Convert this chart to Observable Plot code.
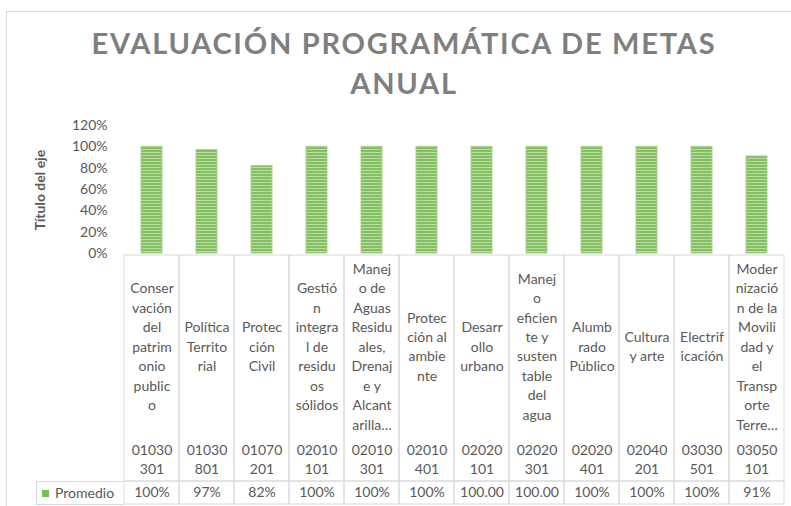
<!DOCTYPE html>
<html>
<head>
<meta charset="utf-8">
<script src="https://cdn.jsdelivr.net/npm/d3@7"></script>
<script src="https://cdn.jsdelivr.net/npm/@observablehq/plot@0.6"></script>
<style>
  body { margin: 0; background: #fff; font-family: Lato, sans-serif; }
  #wrap { position: relative; width: 791px; height: 506px; overflow: hidden; background: #fff; }
  #frame { position: absolute; left: 6px; top: 11px; width: 900px; height: 600px; border-left: 1px solid #d9d9d9; border-top: 1px solid #d9d9d9; }
  .title { position: absolute; left: 0; width: 808px; text-align: center; font: bold 29px Lato, sans-serif; line-height: 40px; color: #7f7f7f; white-space: nowrap; }
  #t1 { top: 23px; }
  #t2 { top: 63px; }
  #ylabel { position: absolute; left: 39px; top: 190px; transform: translate(-50%, -50%) rotate(-90deg); font: bold 14px Lato, sans-serif; color: #595959; white-space: nowrap; }
  #chart, #labels, #values { position: absolute; left: 0; }
  #chart { top: 0; }
  #labels { top: 254px; }
  #values { top: 480px; }
  #legend { position: absolute; left: 36px; top: 481px; width: 88px; height: 24px; box-sizing: border-box; border: 1px solid #d9d9d9; border-right: none; font: 14px Lato, sans-serif; color: #595959; line-height: 22px; white-space: nowrap; }
  #legend .sw { display: inline-block; width: 7px; height: 7px; background: #7cbb5a; margin: 0 6px 0 5px; vertical-align: middle; position: relative; top: -1px; }
</style>
</head>
<body>
<div id="wrap">
  <div id="frame"></div>
  <div class="title" id="t1"></div>
  <div class="title" id="t2"></div>
  <div id="ylabel"></div>
  <div id="chart"></div>
  <div id="labels"></div>
  <div id="values"></div>
  <div id="legend"><span class="sw"></span><span id="legendText"></span></div>
</div>
<script>
// ---- data ----
const titleLines = ["EVALUACIÓN PROGRAMÁTICA DE METAS", "ANUAL"];
const yTitle = "Título del eje";
const seriesName = "Promedio";
const codes = ["01030301", "01030801", "01070201", "02010101", "02010301", "02010401",
               "02020101", "02020301", "02020401", "02040201", "03030501", "03050101"];
// category labels as wrapped in the reference table
const labels = [
  "Conser\nvación\ndel\npatrim\nonio\npublic\no",
  "Política\nTerrito\nrial",
  "Protec\nción\nCivil",
  "Gestió\nn\nintegra\nl de\nresidu\nos\nsólidos",
  "Manej\no de\nAguas\nResidu\nales,\nDrenaj\ne y\nAlcant\narilla…",
  "Protec\nción al\nambie\nnte",
  "Desarr\nollo\nurbano",
  "Manej\no\neficien\nte y\nsusten\ntable\ndel\nagua",
  "Alumb\nrado\nPúblico",
  "Cultura\ny arte",
  "Electrif\nicación",
  "Moder\nnizació\nn de la\nMovili\ndad y\nel\nTransp\norte\nTerre…"
];
const values = [1.00, 0.97, 0.82, 1.00, 1.00, 1.00, 1.00, 1.00, 1.00, 1.00, 1.00, 0.91];
const valueLabels = ["100%", "97%", "82%", "100%", "100%", "100%", "100.00", "100.00", "100%", "100%", "100%", "91%"];
const yTicks = [0, 0.2, 0.4, 0.6, 0.8, 1.0, 1.2];

const data = codes.map((c, i) => ({code: c, label: labels[i], value: values[i], vlabel: valueLabels[i]}));

// ---- texts ----
function fitSpacing(text, font, target) {
  const ctx = document.createElement("canvas").getContext("2d");
  ctx.font = font;
  const w = ctx.measureText(text).width;
  return (target - w) / (text.length - 1);
}
const ls = fitSpacing(titleLines[0], "bold 29px Lato", 624);
document.getElementById("t1").textContent = titleLines[0];
document.getElementById("t2").textContent = titleLines[1];
document.getElementById("t1").style.letterSpacing = ls + "px";
document.getElementById("t2").style.letterSpacing = ls + "px";
document.getElementById("ylabel").textContent = yTitle;
document.getElementById("legendText").textContent = seriesName;

const baseStyle = {fontFamily: "Lato, sans-serif", fontSize: "14px", color: "#595959", background: "transparent", overflow: "visible"};

// ---- chart ----
const chart = Plot.plot({
  width: 791, height: 255,
  marginTop: 125, marginBottom: 2, marginLeft: 123, marginRight: 7,
  style: baseStyle,
  x: {type: "band", domain: codes, paddingInner: 0.62, paddingOuter: 0.31, axis: null},
  y: {domain: [0, 1.2], ticks: yTicks, tickFormat: d3.format(".0%"), tickSize: 0, tickPadding: 16, label: null},
  marks: [
    Plot.barY(data, {x: "code", y: "value", fill: "url(#stripes)", stroke: "#a9d18e", strokeWidth: 1})
  ]
});
const svg = d3.select(chart);
const pat = svg.insert("defs", ":first-child").append("pattern")
  .attr("id", "stripes").attr("patternUnits", "userSpaceOnUse").attr("width", 4).attr("height", 3);
pat.append("rect").attr("width", 4).attr("height", 3).attr("fill", "#84c063");
pat.append("rect").attr("y", 2).attr("width", 4).attr("height", 1).attr("fill", "#b9dc9f");
document.getElementById("chart").append(chart);

// ---- table: label row ----
const labelRow = Plot.plot({
  width: 791, height: 228,
  marginTop: 1, marginBottom: 1, marginLeft: 123, marginRight: 7,
  style: baseStyle,
  x: {type: "band", domain: codes, padding: 0, axis: null},
  marks: [
    Plot.cell(data, {x: "code", fill: "none", stroke: "#d9d9d9", inset: 0}),
    Plot.text(data, {x: "code", text: "label", frameAnchor: "middle", lineAnchor: "middle", dy: -23, lineHeight: 1.39}),
    Plot.text(data, {x: "code", text: d => d.code.slice(0, 5) + "\n" + d.code.slice(5), frameAnchor: "bottom", lineAnchor: "middle", dy: -23.5, lineHeight: 1.39})
  ]
});
document.getElementById("labels").append(labelRow);

// ---- table: value row ----
const valueRow = Plot.plot({
  width: 791, height: 25,
  marginTop: 1, marginBottom: 1, marginLeft: 123, marginRight: 7,
  style: baseStyle,
  x: {type: "band", domain: codes, padding: 0, axis: null},
  marks: [
    Plot.cell(data, {x: "code", fill: "none", stroke: "#d9d9d9", inset: 0}),
    Plot.text(data, {x: "code", text: "vlabel", frameAnchor: "middle"})
  ]
});
document.getElementById("values").append(valueRow);
</script>
</body>
</html>
